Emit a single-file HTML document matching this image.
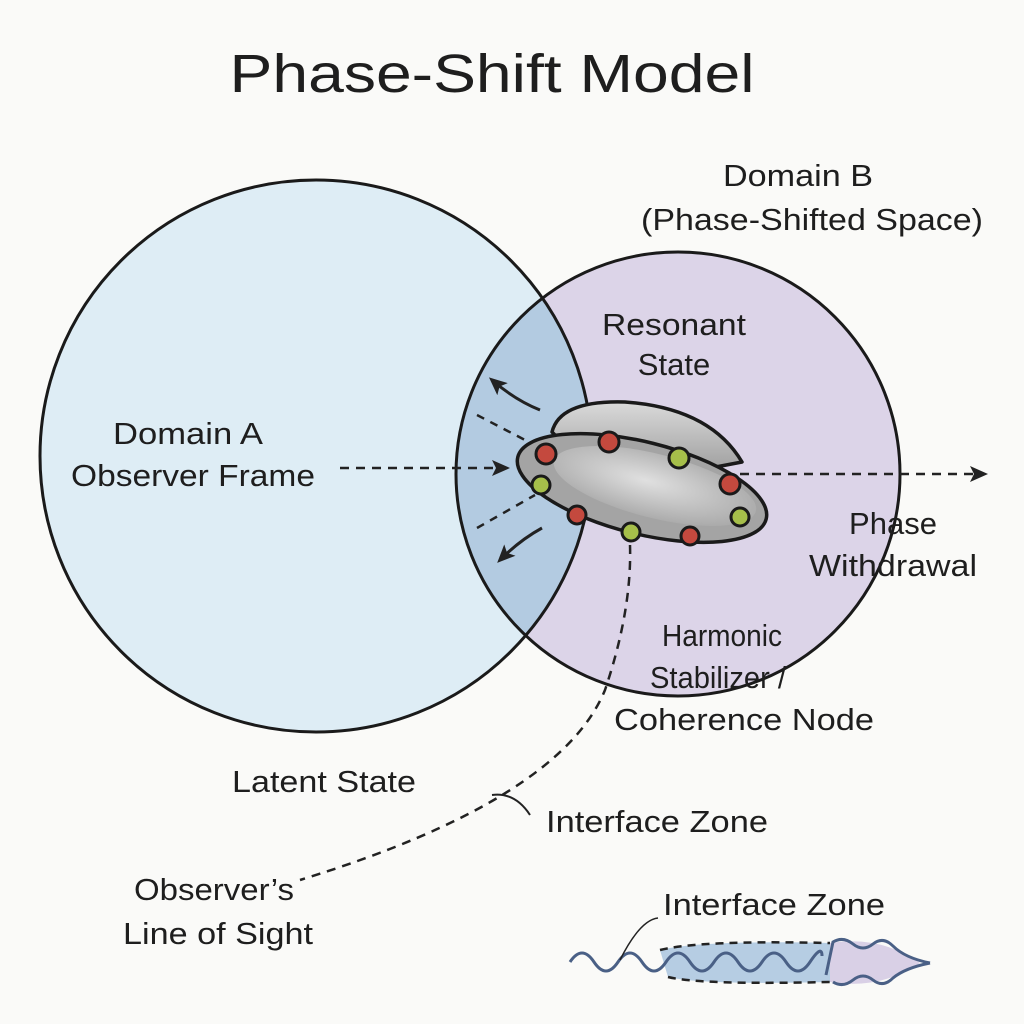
<!DOCTYPE html>
<html><head><style>
html,body{margin:0;padding:0;background:#fafaf8;}
svg{display:block;}
text{font-family:"Liberation Sans",sans-serif;fill:#1e1e1e;}
</style></head><body>
<svg width="1024" height="1024" viewBox="0 0 1024 1024">
<defs>
<clipPath id="ca"><circle cx="316" cy="456" r="276"/></clipPath>
<radialGradient id="sg" cx="0.45" cy="0.45" r="0.6"><stop offset="0" stop-color="#e0e0e0"/><stop offset="1" stop-color="#a8a8a8"/></radialGradient>
<linearGradient id="dg" x1="0" y1="0" x2="0" y2="1"><stop offset="0" stop-color="#dadada"/><stop offset="1" stop-color="#a0a0a0"/></linearGradient>
<marker id="ah2" markerWidth="18" markerHeight="16" refX="14" refY="8" orient="auto" markerUnits="userSpaceOnUse"><path d="M0,0 L18,8 L0,16 L4,8 Z" fill="#222"/></marker>
</defs>
<text x="492" y="92" font-size="54" text-anchor="middle" textLength="525" lengthAdjust="spacingAndGlyphs">Phase-Shift Model</text>
<circle cx="316" cy="456" r="276" fill="#deedf5"/>
<circle cx="678" cy="474" r="222" fill="#dcd4e8"/>
<circle cx="678" cy="474" r="222" fill="#b3cbe1" clip-path="url(#ca)"/>
<circle cx="316" cy="456" r="276" fill="none" stroke="#1a1a1a" stroke-width="3"/>
<circle cx="678" cy="474" r="222" fill="none" stroke="#1a1a1a" stroke-width="3"/>
<!-- arrows -->
<line x1="340" y1="468" x2="506" y2="468" stroke="#222" stroke-width="2.5" stroke-dasharray="9,7" marker-end="url(#ah2)"/>
<line x1="740" y1="474" x2="984" y2="474" stroke="#222" stroke-width="2.5" stroke-dasharray="9,7" marker-end="url(#ah2)"/>
<path d="M540 410 Q515 400 492 380" fill="none" stroke="#222" stroke-width="3" marker-end="url(#ah2)"/>
<path d="M542 528 Q520 540 500 560" fill="none" stroke="#222" stroke-width="3" marker-end="url(#ah2)"/>
<line x1="477" y1="415" x2="525" y2="440" stroke="#222" stroke-width="2.5" stroke-dasharray="8,7"/>
<line x1="477" y1="528" x2="535" y2="495" stroke="#222" stroke-width="2.5" stroke-dasharray="8,7"/>
<path d="M630 545 Q632 610 605 690 Q560 800 300 880" fill="none" stroke="#222" stroke-width="2.5" stroke-dasharray="9,7"/>
<path d="M492 795 Q515 792 530 815" fill="none" stroke="#222" stroke-width="2"/>
<!-- saucer -->
<path d="M552 432 Q560 400 625 402 Q710 408 742 462 L700 470 L560 440 Z" fill="url(#dg)" stroke="#1a1a1a" stroke-width="3.5" stroke-linejoin="round"/>
<ellipse cx="642" cy="488" rx="128" ry="46" transform="rotate(14 642 488)" fill="#a4a4a4" stroke="#1a1a1a" stroke-width="3.5"/>
<ellipse cx="655" cy="486" rx="104" ry="32" transform="rotate(14 655 486)" fill="url(#sg)"/>
<g stroke="#1a1a1a" stroke-width="3">
<circle cx="546" cy="454" r="10" fill="#c4493e"/><circle cx="609" cy="442" r="10" fill="#c4493e"/>
<circle cx="679" cy="458" r="10" fill="#a6bf4a"/><circle cx="730" cy="484" r="10" fill="#c4493e"/>
<circle cx="740" cy="517" r="9" fill="#a6bf4a"/><circle cx="690" cy="536" r="9" fill="#c4493e"/>
<circle cx="631" cy="532" r="9" fill="#a6bf4a"/><circle cx="577" cy="515" r="9" fill="#c4493e"/>
<circle cx="541" cy="485" r="9" fill="#a6bf4a"/>
</g>
<!-- labels -->
<g font-size="31">
<text x="798" y="186" text-anchor="middle" textLength="150" lengthAdjust="spacingAndGlyphs">Domain B</text>
<text x="812" y="230" text-anchor="middle" textLength="342" lengthAdjust="spacingAndGlyphs">(Phase-Shifted Space)</text>
<text x="674" y="335" text-anchor="middle" textLength="144" lengthAdjust="spacingAndGlyphs">Resonant</text>
<text x="674" y="375" text-anchor="middle">State</text>
<text x="188" y="444" text-anchor="middle" textLength="150" lengthAdjust="spacingAndGlyphs">Domain A</text>
<text x="193" y="486" text-anchor="middle" textLength="244" lengthAdjust="spacingAndGlyphs">Observer Frame</text>
<text x="893" y="534" text-anchor="middle">Phase</text>
<text x="893" y="576" text-anchor="middle" textLength="168" lengthAdjust="spacingAndGlyphs">Withdrawal</text>
<text x="722" y="646" text-anchor="middle" textLength="120" lengthAdjust="spacingAndGlyphs">Harmonic</text>
<text x="718" y="688" text-anchor="middle" textLength="136" lengthAdjust="spacingAndGlyphs">Stabilizer /</text>
<text x="744" y="730" text-anchor="middle" textLength="260" lengthAdjust="spacingAndGlyphs">Coherence Node</text>
<text x="324" y="792" text-anchor="middle" textLength="184" lengthAdjust="spacingAndGlyphs">Latent State</text>
<text x="657" y="832" text-anchor="middle" textLength="222" lengthAdjust="spacingAndGlyphs">Interface Zone</text>
<text x="214" y="900" text-anchor="middle" textLength="160" lengthAdjust="spacingAndGlyphs">Observer’s</text>
<text x="218" y="944" text-anchor="middle" textLength="190" lengthAdjust="spacingAndGlyphs">Line of Sight</text>
<text x="774" y="915" text-anchor="middle" textLength="222" lengthAdjust="spacingAndGlyphs">Interface Zone</text>
</g>
<!-- interface zone diagram -->
<path d="M660 950 Q700 940 830 943 L830 982 Q700 985 668 977 Z" fill="#b6cde3"/>
<path d="M830 943 Q880 935 920 963 Q880 990 830 982 Z" fill="#d9d0e6"/>
<path d="M660 950 Q700 940 830 943" fill="none" stroke="#222" stroke-width="2.5" stroke-dasharray="8,6"/>
<path d="M668 977 Q700 985 830 982" fill="none" stroke="#222" stroke-width="2.5" stroke-dasharray="8,6"/>
<path d="M570 962 q12 -18 24 0 t24 0 t24 0 t24 0 t24 0 t24 0 t24 0 t24 0 t24 0 t24 0 t12 -6" fill="none" stroke="#4a6086" stroke-width="3"/>
<path d="M826 975 L833 942 q10 -6 20 2 t20 0 t20 2 Q905 958 930 963" fill="none" stroke="#4a6086" stroke-width="3"/>
<path d="M833 982 q10 6 20 -2 t20 0 t20 -2 Q905 968 930 963" fill="none" stroke="#4a6086" stroke-width="3"/>
<path d="M620 960 Q640 920 658 918" fill="none" stroke="#222" stroke-width="1.5"/>
</svg>
</body></html>
